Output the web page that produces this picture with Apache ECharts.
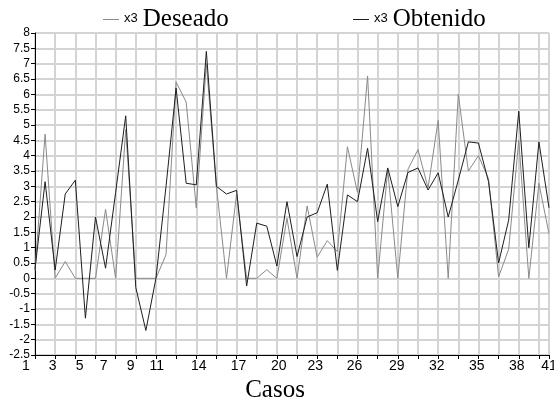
<!DOCTYPE html>
<html>
<head>
<meta charset="utf-8">
<script src="https://cdn.jsdelivr.net/npm/echarts@6/dist/echarts.min.js"></script>
<style>
html,body{margin:0;padding:0;background:#fff;}
#c{width:554px;height:403px;}
</style>
</head>
<body>
<div id="c"></div>
<script>
// point positions along the case axis
const puntos = [0,1,2,3,4,5,6,7,8,9,10,11,12,13,14,15,16,17,18,19,20,21,22,23,24,25,
                26,27,28,29,30,31,32,33,34,35,36,37,38,39,40,41,42,43,44,45,46,47,48,49,50,51];
// Deseado (gray)
const deseado = [0.25,4.7,0,0.55,0,0,0,2.25,0,4.85,0,0,0,0.77,6.4,5.75,2.3,7.0,3.0,0,2.75,
                 0,0,0.28,0,1.96,0,2.36,0.69,1.23,0.87,4.29,2.8,6.6,0,3.55,0,3.55,4.2,2.95,
                 5.15,0,6.0,3.5,4.0,3.25,0.05,0.95,4.5,0,3.1,1.45];
// Obtenido (black)
const obtenido = [0.3,3.15,0.27,2.75,3.2,-1.3,2.0,0.33,2.8,5.3,-0.3,-1.7,0,3.0,6.2,3.1,3.05,7.4,3.0,2.75,2.87,
                  -0.25,1.8,1.7,0.4,2.5,0.71,2.0,2.14,3.07,0.26,2.72,2.5,4.24,1.85,3.6,2.34,3.45,3.6,2.88,
                  3.44,2.0,3.2,4.45,4.41,3.15,0.5,1.9,5.45,1.0,4.45,2.3];
// x tick labels and where they sit on the point axis
const etiquetasX = ['1','3','5','7','9','11','14','17','20','23','26','29','32','35','38','41'];
const posEtiquetasX = [0,1.74,4.42,6.8,9.48,12.07,16.24,20.2,24.18,27.8,31.7,35.9,39.87,43.84,47.8,51];

const chart = echarts.init(document.getElementById('c'), null, {renderer: 'canvas'});

function legendFor(name, left) {
  return {
    data: [name],
    left: left,
    top: 7,
    icon: 'rect',
    itemWidth: 16,
    itemHeight: 1,
    padding: 0,
    selectedMode: false,
    formatter: function (n) { return '{x|x3}{n|' + n + '}'; },
    textStyle: {
      fontSize: 12,
      color: '#000',
      rich: {
        x: {fontSize: 13, fontFamily: 'Liberation Sans Narrow, Liberation Sans, Arial', color: '#000', verticalAlign: 'middle', padding: [0, 0, 2, 0]},
        n: {fontSize: 25, fontFamily: 'Liberation Serif, Times New Roman, serif', color: '#000', verticalAlign: 'middle', padding: [0, 0, 0, 5]}
      }
    }
  };
}

const option = {
  animation: false,
  backgroundColor: '#fff',
  legend: [legendFor('Deseado', 103), legendFor('Obtenido', 353)],
  grid: {
    left: 35, right: 5, top: 33, bottom: 48,
    containLabel: false,
    outerBoundsMode: 'none',
    show: true, borderColor: '#7a7a7a', borderWidth: 1, backgroundColor: 'transparent'
  },
  xAxis: {
    type: 'value',
    min: 0,
    max: 51,
    interval: 2,
    name: 'Casos',
    nameLocation: 'middle',
    nameGap: 13,
    nameTextStyle: {
      fontFamily: 'Liberation Serif, Times New Roman, serif',
      fontSize: 25,
      color: '#000',
      padding: [0, 34, 0, 0]
    },
    axisLine: {show: true, onZero: false, lineStyle: {color: '#000', width: 1}},
    axisTick: {show: true, inside: false, length: 4, lineStyle: {color: '#000'}},
    axisLabel: {
      customValues: posEtiquetasX,
      margin: 4,
      color: '#000',
      fontFamily: 'Liberation Sans Narrow, Liberation Sans, Arial',
      fontSize: 14,
      hideOverlap: false,
      formatter: function (v) {
        let best = 0, d = 1e9;
        posEtiquetasX.forEach(function (p, i) { if (Math.abs(p - v) < d) { d = Math.abs(p - v); best = i; } });
        const t = etiquetasX[best];
        return best === 0 ? '{f|' + t + '}' : t;
      },
      rich: {
        f: {fontFamily: 'Liberation Sans Narrow, Liberation Sans, Arial', fontSize: 14, color: '#000', padding: [0, 18, 0, 0]}
      }
    },
    splitLine: {show: true, lineStyle: {color: '#d4d4d4', width: 2}}
  },
  yAxis: {
    type: 'value',
    min: -2.5,
    max: 8,
    interval: 0.5,
    axisLine: {show: true, onZero: false, lineStyle: {color: '#000', width: 1}},
    axisTick: {show: true, inside: false, length: 4, lineStyle: {color: '#000'}},
    axisLabel: {
      margin: 5,
      color: '#000',
      fontFamily: 'Liberation Sans Narrow, Liberation Sans, Arial',
      fontSize: 12
    },
    splitLine: {show: true, lineStyle: {color: '#d4d4d4', width: 2}}
  },
  series: [
    {
      name: 'Deseado',
      type: 'line',
      data: puntos.map(function (x, i) { return [x, deseado[i]]; }),
      showSymbol: false,
      symbol: 'none',
      color: '#8a8a8a',
      lineStyle: {color: '#8a8a8a', width: 1},
      z: 2
    },
    {
      name: 'Obtenido',
      type: 'line',
      data: puntos.map(function (x, i) { return [x, obtenido[i]]; }),
      showSymbol: false,
      symbol: 'none',
      color: '#1e1e1e',
      lineStyle: {color: '#1e1e1e', width: 1},
      z: 3
    }
  ]
};
chart.setOption(option);
</script>
</body>
</html>
